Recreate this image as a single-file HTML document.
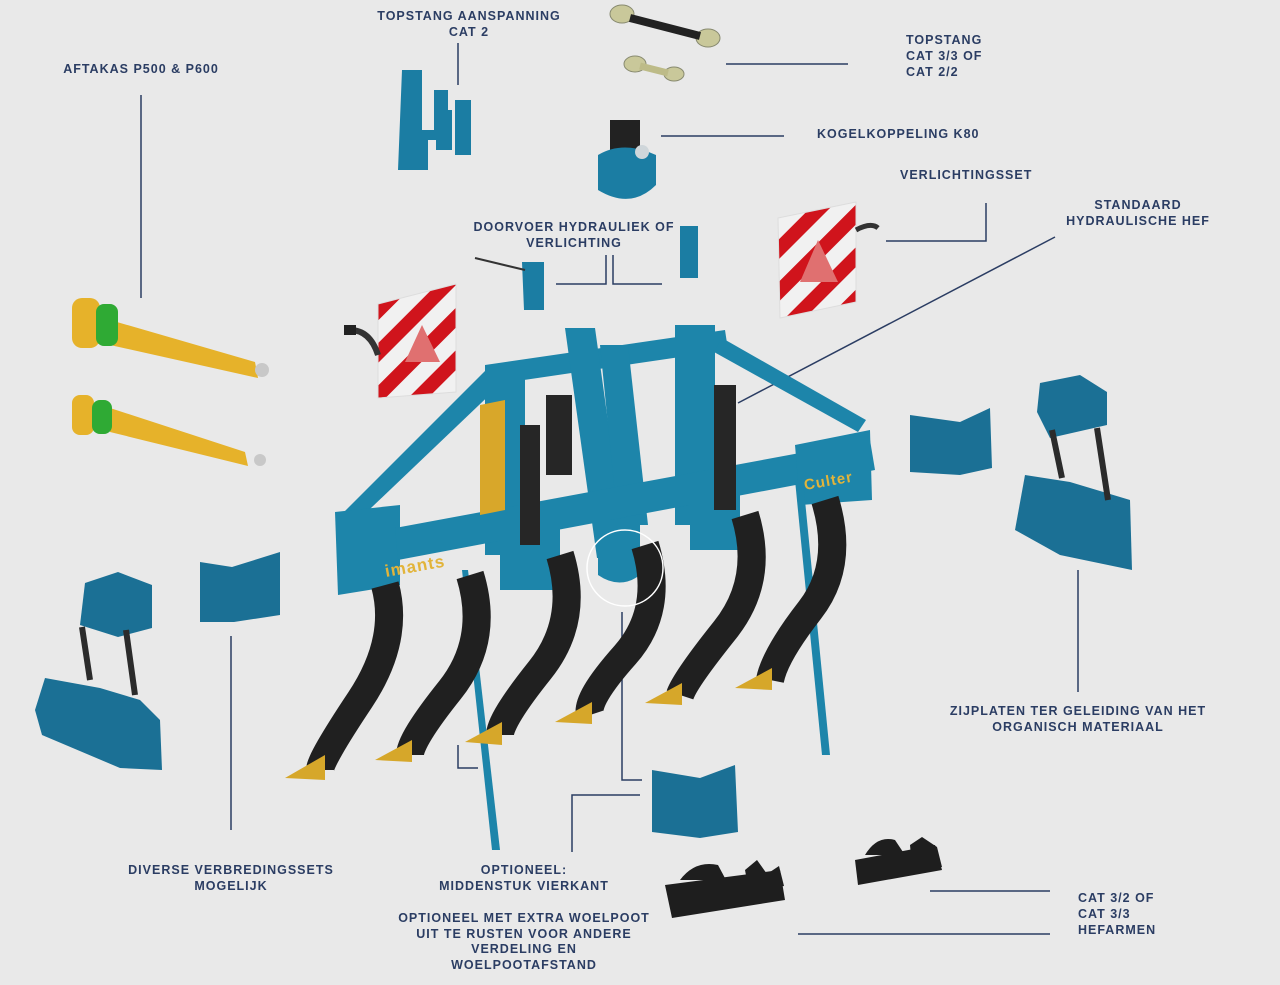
<!DOCTYPE html>
<html><head><meta charset="utf-8">
<style>
html,body{margin:0;padding:0;background:#e9e9e9;}
svg{display:block}
text{font-family:"Liberation Sans",sans-serif;font-weight:bold;font-size:12.5px;fill:#2b3d63;letter-spacing:1px}
</style></head><body>
<svg width="1280" height="985" viewBox="0 0 1280 985" xmlns="http://www.w3.org/2000/svg">
<defs>
<pattern id="stripe" width="30" height="30" patternUnits="userSpaceOnUse" patternTransform="rotate(45)">
<rect width="30" height="30" fill="#f1f1f1"/><rect width="14" height="30" fill="#d0141c"/>
</pattern>
</defs>
<rect width="1280" height="985" fill="#e9e9e9"/>

<g stroke="#2b3d63" stroke-width="1.5" fill="none">
<path d="M458 43V85"/>
<path d="M141 95V298"/>
<path d="M726 64H848"/>
<path d="M661 136H784"/>
<path d="M986 203V241H886"/>
<path d="M1055 237L738 403"/>
<path d="M606 255V284H556"/>
<path d="M613 255V284H662"/>
<path d="M1078 570V692"/>
<path d="M231 636V830"/>
<path d="M572 852V795H640"/>
<path d="M622 612V780H642"/>
<path d="M458 745V768H478"/>
<path d="M930 891H1050"/>
<path d="M798 934H1050"/>
</g>

<g fill="#1b7da3">
<path d="M402 70h20v60h12v-40h14v50h-20v30h-30z"/>
<path d="M436 110h16v40h-16zM455 100h16v55h-16z"/>
</g>
<g fill="#c9c89a" stroke="#888a70" stroke-width="1">
<ellipse cx="622" cy="14" rx="12" ry="9"/><ellipse cx="708" cy="38" rx="12" ry="9"/>
<ellipse cx="635" cy="64" rx="11" ry="8"/><ellipse cx="674" cy="74" rx="10" ry="7"/>
</g>
<path d="M630 18L700 36" stroke="#222" stroke-width="8"/>
<path d="M640 66L668 73" stroke="#bdbb88" stroke-width="7"/>
<rect x="610" y="120" width="30" height="30" fill="#222"/>
<path d="M598 155q25-15 58 0v30q-25 25-58 5z" fill="#1b7da3"/>
<circle cx="642" cy="152" r="7" fill="#cfd6da"/>
<path d="M522 262h22v48h-20z" fill="#1b7da3"/>
<path d="M475 258L525 270" stroke="#333" stroke-width="2"/>
<path d="M680 226h18v52h-18z" fill="#1b7da3"/>
<g>
<path d="M778 218L856 202V302L780 318z" fill="url(#stripe)" stroke="#ddd" stroke-width="1"/>
<path d="M818 240L838 282H800z" fill="#e07070"/>
<path d="M856 230q15-8 22-2" stroke="#333" stroke-width="5" fill="none"/>
<path d="M378 304L456 284V392L378 398z" fill="url(#stripe)" stroke="#ddd" stroke-width="1"/>
<path d="M422 325L440 362H405z" fill="#e07070"/>
<path d="M350 330q20 0 28 25" stroke="#333" stroke-width="6" fill="none"/>
<rect x="344" y="325" width="12" height="10" fill="#222"/>
</g>

<g>
<path d="M110 320L255 362L258 378L110 345z" fill="#e6b22a"/>
<rect x="72" y="298" width="28" height="50" rx="10" fill="#e6b22a"/>
<rect x="96" y="304" width="22" height="42" rx="8" fill="#2faa34"/>
<circle cx="262" cy="370" r="7" fill="#c8c8c8"/>
<path d="M110 408L245 452L248 466L110 432z" fill="#e6b22a"/>
<rect x="72" y="395" width="22" height="40" rx="8" fill="#e6b22a"/>
<rect x="92" y="400" width="20" height="34" rx="8" fill="#2faa34"/>
<circle cx="260" cy="460" r="6" fill="#c8c8c8"/>
</g>

<g fill="#1b7095">
<path d="M85 583L118 572L152 585L152 628L118 637L80 625z"/>
<path d="M45 678L100 688L140 700L160 720L162 770L120 768L42 735L35 710z"/>
<path d="M200 562L232 567L280 552L280 615L234 622L200 622z"/>
<path d="M910 415L960 422L990 408L992 468L960 475L910 472z"/>
<path d="M1040 383L1080 375L1107 392L1107 425L1050 438L1037 412z"/>
<path d="M1025 475L1070 482L1130 500L1132 570L1060 555L1015 530z"/>
<path d="M652 770L700 778L735 765L738 832L700 838L652 832z"/>
</g>
<g stroke="#2b2b2b" stroke-width="6">
<path d="M82 627L90 680M126 630L135 695M1052 430L1062 478M1097 428L1108 500"/>
</g>
<g fill="#1e1e1e">
<path d="M665 885L780 870L785 900L672 918z"/>
<path d="M680 880q15-20 38-15l8 15zM745 870l12-10 10 14 12-8 5 20-35 5z"/>
<path d="M855 860L935 845L942 870L858 885z"/>
<path d="M865 855q12-20 30-15l10 15zM910 845l12-8 15 10 5 20-30 0z"/>
</g>

<g fill="#1d85aa">
<path d="M485 365L725 330L728 350L490 385z"/>
<path d="M488 368L338 518L350 528L500 385z"/>
<path d="M722 338L866 420L858 432L714 352z"/>
<path d="M485 365h40v190h-40z"/>
<path d="M565 328h30l32 230h-30z"/>
<path d="M600 345h28l20 180h-30z"/>
<path d="M675 325h40v200h-40z"/>
<path d="M335 512L400 505L400 585L338 595z"/>
<path d="M395 528L870 440L875 470L398 560z"/>
<path d="M795 445L870 430L872 500L800 505z"/>
<path d="M500 520h60v70h-60z"/><path d="M690 490h50v60h-50z"/>
<path d="M462 570L468 570L500 850L492 850z"/>
<path d="M795 480L803 480L830 755L822 755z"/>
<path d="M598 520h42v55q-20 15-42 0z"/>
</g>
<g fill="#d8a72a"><path d="M480 405L505 400L505 510L480 515z"/></g>
<text x="386" y="577" style="fill:#e2b43a;font-size:17px" transform="rotate(-10 386 577)">imants</text>
<text x="805" y="490" style="fill:#e2b43a;font-size:15px" transform="rotate(-10 805 490)">Culter</text>
<g fill="#262626">
<rect x="520" y="425" width="20" height="120"/><rect x="714" y="385" width="22" height="125"/>
<rect x="546" y="395" width="26" height="80"/>
</g>
<g stroke="#202020" stroke-width="28" fill="none" stroke-linecap="butt">
<path d="M385 585Q400 640 360 700T320 770"/>
<path d="M470 575Q490 640 450 690T410 755"/>
<path d="M560 555Q580 620 540 670T500 735"/>
<path d="M645 545Q665 610 625 655T590 715"/>
<path d="M745 515Q765 580 725 630T680 695"/>
<path d="M825 500Q845 565 810 610T770 680"/>
</g>
<g fill="#d6a72a">
<path d="M285 778L325 755L325 780z"/><path d="M375 760L412 740L412 762z"/>
<path d="M465 742L502 722L502 745z"/><path d="M555 722L592 702L592 724z"/>
<path d="M645 703L682 683L682 705z"/><path d="M735 688L772 668L772 690z"/>
</g>
<circle cx="625" cy="568" r="38" fill="none" stroke="#ffffff" stroke-width="1.5"/>

<g text-anchor="middle">
<text x="469" y="20">TOPSTANG AANSPANNING</text><text x="469" y="36">CAT 2</text>
<text x="141" y="73">AFTAKAS P500 &amp; P600</text>
<text x="1138" y="209">STANDAARD</text><text x="1138" y="225">HYDRAULISCHE HEF</text>
<text x="574" y="231">DOORVOER HYDRAULIEK OF</text><text x="574" y="247">VERLICHTING</text>
<text x="1078" y="715">ZIJPLATEN TER GELEIDING VAN HET</text><text x="1078" y="731">ORGANISCH MATERIAAL</text>
<text x="231" y="874">DIVERSE VERBREDINGSSETS</text><text x="231" y="890">MOGELIJK</text>
<text x="524" y="874">OPTIONEEL:</text><text x="524" y="890">MIDDENSTUK VIERKANT</text>
<text x="524" y="922">OPTIONEEL MET EXTRA WOELPOOT</text><text x="524" y="938">UIT TE RUSTEN VOOR ANDERE</text>
<text x="524" y="953">VERDELING EN</text><text x="524" y="969">WOELPOOTAFSTAND</text>
</g>
<text x="906" y="44">TOPSTANG</text><text x="906" y="60">CAT 3/3 OF</text><text x="906" y="76">CAT 2/2</text>
<text x="817" y="138">KOGELKOPPELING K80</text>
<text x="900" y="179">VERLICHTINGSSET</text>
<text x="1078" y="902">CAT 3/2 OF</text><text x="1078" y="918">CAT 3/3</text><text x="1078" y="934">HEFARMEN</text>
</svg>
</body></html>
